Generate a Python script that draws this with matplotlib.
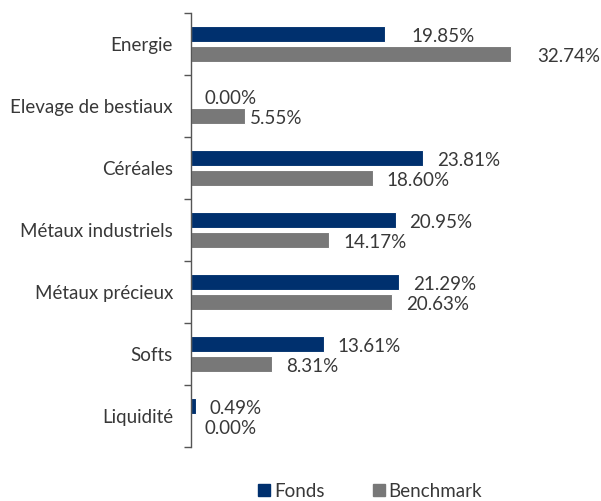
import numpy as np
import matplotlib.pyplot as plt
from matplotlib.lines import Line2D

categories = ['Energie', 'Elevage de bestiaux', 'Céréales', 'Métaux industriels',
              'Métaux précieux', 'Softs', 'Liquidité']
fonds = [19.85, 0.00, 23.81, 20.95, 21.29, 13.61, 0.49]
benchmark = [32.74, 5.55, 18.60, 14.17, 20.63, 8.31, 0.00]
series_names = ['Fonds', 'Benchmark']

navy = '#00306e'
grey = '#787878'
text_col = '#383838'

plt.rcParams['font.family'] = ['Lato', 'DejaVu Sans']

fig = plt.figure(figsize=(6.01, 5.01), dpi=100)
ax = fig.add_axes([191 / 601, 1 - 447 / 501, 410 / 601, 434 / 501])

y = np.arange(len(categories))
h = 0.27
ax.barh(y - 0.16, fonds, height=h, color=navy, edgecolor='white', linewidth=0.8)
ax.barh(y + 0.16, benchmark, height=h, color=grey, edgecolor='white', linewidth=0.8)

ax.set_xlim(0, 42)
ax.set_ylim(len(categories) - 0.5, -0.5)

# value labels, offset in points from the bar end (a few were moved by hand)
nudge_f = [9, 0, 0, 0, 0, 0, 0]
nudge_b = [9, -6.5, 0, 0, 0, 0, 0]
fs = 13.5
for i in range(len(categories)):
    ax.annotate(f'{fonds[i]:.2f}%', (fonds[i], y[i] - 0.16), xytext=(10 + nudge_f[i], -2),
                textcoords='offset points', va='center', ha='left', fontsize=fs, color=text_col)
    ax.annotate(f'{benchmark[i]:.2f}%', (benchmark[i], y[i] + 0.16), xytext=(10 + nudge_b[i], -2),
                textcoords='offset points', va='center', ha='left', fontsize=fs, color=text_col)

ax.set_yticks(y)
ax.set_yticklabels(categories, fontsize=fs, color=text_col)
ax.tick_params(axis='y', which='major', length=0, pad=13)
ax.set_yticks(np.arange(len(categories) + 1) - 0.5, minor=True)
ax.tick_params(axis='y', which='minor', length=5, width=1, color='#555555')
ax.set_xticks([])
for s in ['top', 'right', 'bottom']:
    ax.spines[s].set_visible(False)
ax.spines['left'].set_color('#555555')
ax.spines['left'].set_linewidth(1)

handles = [Line2D([], [], marker='s', linestyle='', color=navy, markersize=8),
           Line2D([], [], marker='s', linestyle='', color=grey, markersize=8)]
fig.legend(handles, series_names, loc='center', bbox_to_anchor=(0.613, 0.019), ncol=2,
           frameon=False, fontsize=fs, handletextpad=0.0, columnspacing=2.4,
           labelcolor=text_col, handlelength=1.0)

fig.savefig('out.png', dpi=100)
